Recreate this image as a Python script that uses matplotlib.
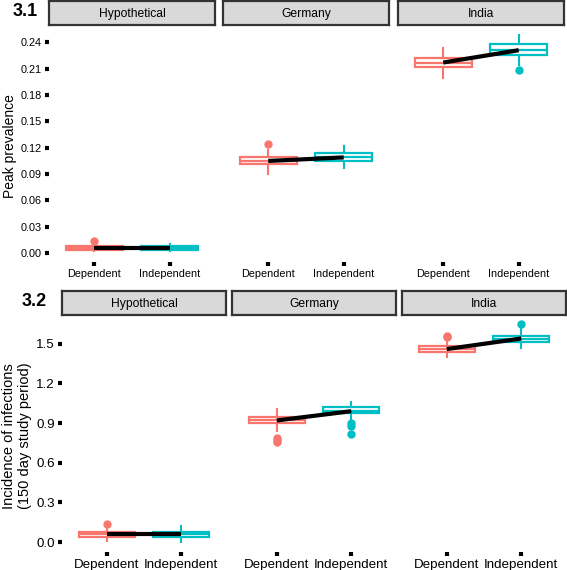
import numpy as np
import matplotlib.pyplot as plt

plt.rcParams['font.family'] = ['Liberation Sans', 'DejaVu Sans']

countries = ["Hypothetical", "Germany", "India"]
groups = ["Dependent", "Independent"]
colors = ["#F8766D", "#00BFC4"]

# peak prevalence: [country][group] -> (whislo, q1, med, q3, whishi, fliers)
peak_lo = [[0.002, 0.002], [0.090, 0.097], [0.199, 0.214]]
peak_q1 = [[0.004, 0.004], [0.101, 0.105], [0.212, 0.226]]
peak_med = [[0.006, 0.006], [0.105, 0.109], [0.217, 0.231]]
peak_q3 = [[0.008, 0.008], [0.109, 0.114], [0.222, 0.238]]
peak_hi = [[0.011, 0.011], [0.118, 0.122], [0.234, 0.248]]
peak_out = [[[0.014], []], [[0.124], []], [[], [0.208]]]
peak_ticks = [0.00, 0.03, 0.06, 0.09, 0.12, 0.15, 0.18, 0.21, 0.24]

# incidence over 150 days
inc_lo = [[0.01, 0.00], [0.84, 0.93], [1.40, 1.47]]
inc_q1 = [[0.04, 0.04], [0.90, 0.98], [1.44, 1.51]]
inc_med = [[0.06, 0.06], [0.92, 0.99], [1.46, 1.54]]
inc_q3 = [[0.08, 0.08], [0.95, 1.02], [1.48, 1.56]]
inc_hi = [[0.12, 0.12], [1.01, 1.06], [1.52, 1.61]]
inc_out = [[[0.14], []], [[0.79, 0.77, 0.76], [0.90, 0.88, 0.82]], [[1.56, 1.55], [1.65]]]
inc_ticks = [0.0, 0.3, 0.6, 0.9, 1.2, 1.5]

W, H = 567, 570
fig = plt.figure(figsize=(W / 100, H / 100), dpi=100)


def box(px, py, pw, ph):
    return [px / W, 1 - (py + ph) / H, pw / W, ph / H]


def draw_row(xs, pw, strip_y, panel_y, panel_h, lo, q1, med, q3, hi, out,
             ticks, ylim, fmt, ylabel, tag, tag_x, lab_size, tick_size, ylab_size):
    for c, name in enumerate(countries):
        sax = fig.add_axes(box(xs[c], strip_y, pw, 24))
        sax.set_xticks([]); sax.set_yticks([])
        sax.set_facecolor("#d9d9d9")
        for s in sax.spines.values():
            s.set_color("#333333"); s.set_linewidth(1.6)
        sax.text(0.5, 0.45, name, ha="center", va="center", fontsize=8.7,
                 transform=sax.transAxes)

        ax = fig.add_axes(box(xs[c], panel_y, pw, panel_h))
        for s in ax.spines.values():
            s.set_visible(False)
        for g in range(2):
            st = [dict(whislo=lo[c][g], q1=q1[c][g], med=med[c][g],
                       q3=q3[c][g], whishi=hi[c][g], fliers=out[c][g])]
            col = colors[g]
            ax.bxp(st, positions=[g + 1], widths=0.75, showcaps=False,
                   patch_artist=True,
                   boxprops=dict(facecolor="white", edgecolor=col, linewidth=1.6),
                   medianprops=dict(color=col, linewidth=1.6),
                   whiskerprops=dict(color=col, linewidth=1.5),
                   flierprops=dict(marker="o", markerfacecolor=col,
                                   markeredgecolor=col, markersize=5))
        ax.plot([1, 2], [med[c][0], med[c][1]], color="black", lw=3,
                solid_capstyle="butt", zorder=5)
        ax.set_xlim(0.4, 2.6)
        ax.set_ylim(*ylim)
        ax.set_xticks([1, 2])
        ax.set_xticklabels(groups, fontsize=lab_size)
        ax.tick_params(axis="both", length=3, width=3, pad=2)
        ax.set_yticks(ticks)
        if c == 0:
            ax.set_yticklabels([fmt % t for t in ticks], fontsize=tick_size)
            ax.set_ylabel(ylabel, fontsize=ylab_size, labelpad=3)
        else:
            ax.tick_params(axis="y", left=False, labelleft=False)
    fig.text(tag_x / W, 1 - (strip_y + 11) / H, tag,
             fontsize=13, fontweight="bold", va="center", ha="left")


draw_row([49, 223, 398], 166, 1, 30, 232, peak_lo, peak_q1, peak_med,
         peak_q3, peak_hi, peak_out, peak_ticks, (-0.010, 0.254), "%.2f",
         "Peak prevalence", "3.1", 13, 7.8, 7.8, 10)
draw_row([62, 232, 402], 164, 291, 320, 232, inc_lo, inc_q1, inc_med,
         inc_q3, inc_hi, inc_out, inc_ticks, (-0.075, 1.68), "%.1f",
         "Incidence of infections\n(150 day study period)", "3.2", 22, 9.6, 9.6, 10.5)

fig.savefig("out.png", dpi=100)
